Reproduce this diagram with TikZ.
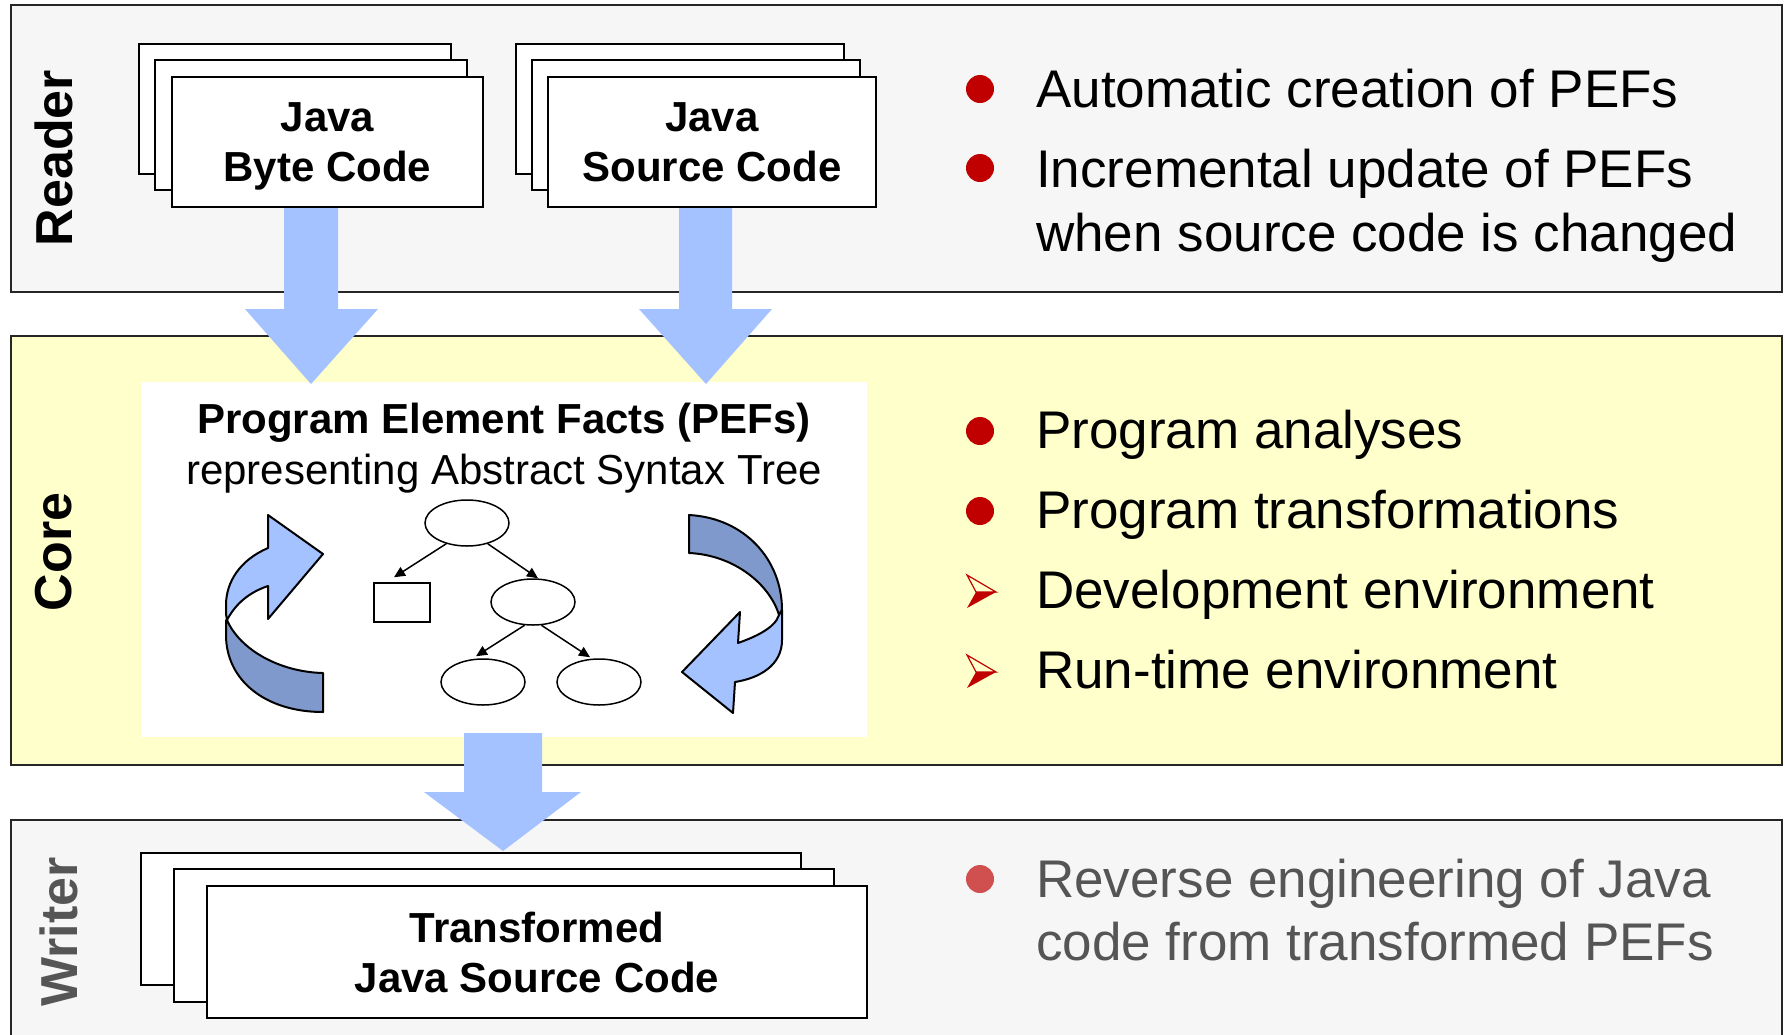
\documentclass[tikz,border=0pt]{standalone}
\usepackage{fontspec}
\setmainfont{Liberation Sans}
\usetikzlibrary{shapes.geometric,arrows.meta,calc}
\definecolor{panelgray}{RGB}{246,246,246}
\definecolor{coreyellow}{RGB}{255,255,204}
\definecolor{flowblue}{RGB}{164,194,255}
\definecolor{darkblue}{RGB}{128,153,204}
\definecolor{bulletred}{RGB}{192,0,0}
\definecolor{lightred}{RGB}{208,80,80}
\definecolor{writergray}{RGB}{85,85,85}
\tikzset{
  layer/.style={draw=black!85, line width=2.5pt},
  stackbox/.style={draw=black, fill=white, line width=2pt, inner sep=0},
  boxtext/.style={font=\fontsize{42}{50}\selectfont\bfseries, align=center, inner sep=0},
  layerlabel/.style={font=\fontsize{52}{60}\selectfont\bfseries, rotate=90, inner sep=0},
  bul/.style={font=\fontsize{53}{62}\selectfont, anchor=base west, inner sep=0},
  dotbullet/.style={circle, fill=bulletred, minimum size=28pt, inner sep=0},
  flow/.style={fill=flowblue},
  curlight/.style={fill=flowblue, draw=black, line width=2pt, line join=round},
  curdark/.style={fill=darkblue, draw=black, line width=2pt, line join=round},
  treenode/.style={ellipse, draw, line width=1.5pt, minimum width=84pt, minimum height=46pt, inner sep=0},
  tarrow/.style={line width=1.5pt, -{Triangle[length=11pt,width=10pt]}},
  darrow/.pic={
    \draw[bulletred, line width=1.2pt, line join=miter] (-14.5,-17) -- (14.5,0) -- (-5.5,0) -- cycle;
    \fill[bulletred] (-5.5,0) -- (14.5,0) -- (-14.5,16) -- cycle;
  }
}
\begin{document}
\begin{tikzpicture}[x=1pt,y=-1pt]
\clip (0,0) rectangle (1785,1034);
\fill[white] (0,0) rectangle (1785,1034);

% layers
\draw[layer, fill=panelgray] (11,5) rectangle (1782,292);
\draw[layer, fill=coreyellow] (11,336) rectangle (1782,765);
\draw[layer, fill=panelgray] (11,820) rectangle (1782,1060);

\node[layerlabel] (readerlbl) at (54,158) {Reader};
\node[layerlabel] (corelbl) at (54,552) {Core};
\node[layerlabel, text=writergray] (writerlbl) at (59,932) {Writer};

% PEF panel
\fill[white] (141,382) rectangle (867,737);

% block arrows
\fill[flow] (284,207) -- (338,207) -- (338,309) -- (378,309) -- (311,384) -- (245,309) -- (284,309) -- cycle;
\fill[flow] (679,207) -- (732,207) -- (732,309) -- (772,309) -- (706,384) -- (639,309) -- (679,309) -- cycle;
\fill[flow] (464,733) -- (542,733) -- (542,792) -- (581,792) -- (503,851) -- (424,792) -- (464,792) -- cycle;

% Reader stacks
\draw[stackbox] (139,44) rectangle (451,174);
\draw[stackbox] (155,60) rectangle (467,190);
\node[stackbox, minimum width=311pt, minimum height=130pt] (byte) at (327.5,142) {};
\node[boxtext] (bytetxt) at ($(byte.center)+(0,4.5)$) {Java\\Byte Code};

\draw[stackbox] (516,44) rectangle (844,174);
\draw[stackbox] (532,60) rectangle (860,190);
\node[stackbox, minimum width=328pt, minimum height=130pt] (src) at (712,142) {};
\node[boxtext] (srctxt) at (src.center) {Java\\Source Code};

% Writer stack
\draw[stackbox] (141,853) rectangle (801,985);
\draw[stackbox] (174,869) rectangle (834,1002);
\node[stackbox, minimum width=660pt, minimum height=132pt] (trans) at (537,952) {};
\node[boxtext] (transtxt) at (trans.center) {Transformed\\Java Source Code};

% PEF texts
\node[font=\fontsize{42}{50}\selectfont\bfseries, anchor=base, inner sep=0] (pef1) at (504,433) {Program Element Facts (PEFs)};
\node[font=\fontsize{42}{50}\selectfont, anchor=base, inner sep=0] (pef2) at (504,484) {representing Abstract Syntax Tree};

% tree
\node[treenode] (t0) at (467,523) {};
\node[draw, line width=1.5pt, minimum width=56pt, minimum height=39pt, inner sep=0] (tr) at (402,602.5) {};
\node[treenode] (t1) at (533,602) {};
\node[treenode] (t2) at (483,682) {};
\node[treenode] (t3) at (599,682) {};
\draw[tarrow] (t0.225) -- ($(tr.north)+(-8,-5)$);
\draw[tarrow] (t0.-45) -- ($(t1.north)+(5,0)$);
\draw[tarrow] (t1.250) -- ($(t2.north)+(-7,-2)$);
\draw[tarrow] (t1.290) -- ($(t3.north)+(-9,-1)$);

% left curved arrow
\draw[curdark] (227,620) .. controls (240,650) and (280,672) .. (323,673) -- (323,712)
  .. controls (265,712) and (226,680) .. (226,635) -- (226,620) -- cycle;
\draw[curlight] (227,620) .. controls (236,603) and (250,592) .. (268,586) -- (268,619) -- (323,554)
  -- (268,515) -- (268,548) .. controls (240,560) and (226,582) .. (226,605) -- (226,614) -- cycle;

% right curved arrow
\draw[curdark] (689,515) .. controls (745,518) and (782,560) .. (782,610) -- (779,615)
  .. controls (770,585) and (735,555) .. (689,553) -- cycle;
\draw[curlight] (779,615) -- (782,610) -- (782,640) .. controls (782,665) and (760,678) .. (735,682)
  -- (733,713) -- (682,672) -- (740,612) -- (738,643) .. controls (755,637) and (775,628) .. (779,615) -- cycle;

% Reader bullets
\node[dotbullet] (rb1) at (980,89) {};
\node[dotbullet] (rb2) at (980,168) {};
\node[bul] (rt1) at (1036,107) {Automatic creation of PEFs};
\node[bul] (rt2) at (1036,187) {Incremental update of PEFs};
\node[bul] (rt3) at (1036,251) {when source code is changed};

% Core bullets
\node[dotbullet] (cb1) at (980,431) {};
\node[dotbullet] (cb2) at (980,511) {};
\pic at (981.5,592) {darrow};
\pic at (981.5,672) {darrow};
\node[bul] (ct1) at (1036,448) {Program analyses};
\node[bul] (ct2) at (1036,528) {Program transformations};
\node[bul] (ct3) at (1036,608) {Development environment};
\node[bul] (ct4) at (1036,688) {Run-time environment};

% Writer bullets
\node[dotbullet, fill=lightred] (wb1) at (980,879) {};
\node[bul, text=writergray] (wt1) at (1036,897) {Reverse engineering of Java};
\node[bul, text=writergray] (wt2) at (1036,960) {code from transformed PEFs};
\end{tikzpicture}
\end{document}
